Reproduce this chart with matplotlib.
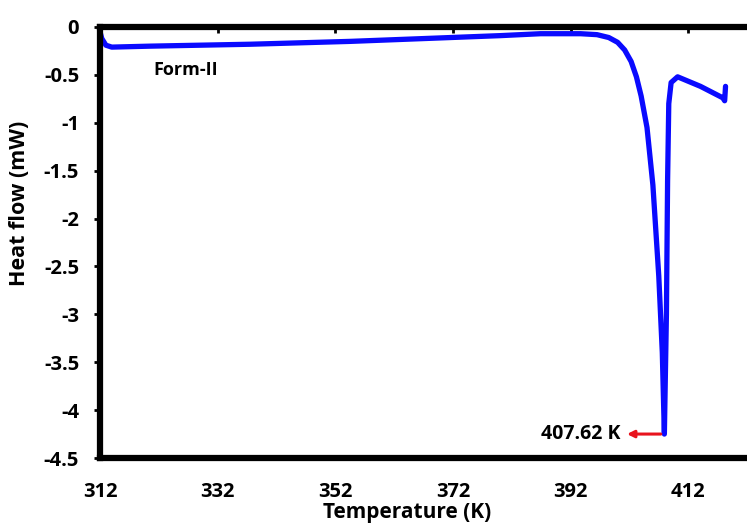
import numpy as np
import matplotlib.pyplot as plt

plt.rcParams['font.family'] = ['Open Sans', 'DejaVu Sans']
plt.rcParams['font.weight'] = 'bold'

# DSC trace (temperature in K, heat flow in mW)
temp = [312.0, 312.3, 313.0, 314.0, 320.5, 337.5, 354.6, 371.6, 380.1, 386.9,
        393.7, 396.5, 398.5, 400.0, 401.2, 402.3, 403.2, 404.0, 405.0, 406.0,
        407.0, 407.6, 407.95, 408.3, 408.5, 408.7, 409.1, 410.2, 414.1, 417.9,
        418.2, 418.35]
heat = [-0.05, -0.12, -0.19, -0.21, -0.20, -0.18, -0.15, -0.11, -0.09, -0.07,
        -0.07, -0.08, -0.11, -0.16, -0.24, -0.36, -0.52, -0.72, -1.05, -1.65,
        -2.6, -3.4, -4.25, -3.0, -1.6, -0.8, -0.58, -0.52, -0.62, -0.74,
        -0.77, -0.62]

peak_t = 407.62
peak_h = -4.25
xticks = [312, 332, 352, 372, 392, 412]
yticks = [0, -0.5, -1, -1.5, -2, -2.5, -3, -3.5, -4, -4.5]
ytick_labels = ['0', '-0.5', '-1', '-1.5', '-2', '-2.5', '-3', '-3.5', '-4', '-4.5']

fig = plt.figure(figsize=(7.47, 5.28), dpi=100)
ax = fig.add_axes([100 / 747, 70 / 528, 647 / 747, 431 / 528])

ax.plot(temp, heat, color='#0a0aff', lw=3.8, solid_joinstyle='round', solid_capstyle='round')

ax.set_xlim(312, 422)
ax.set_ylim(-4.5, 0)
ax.set_xticks(xticks)
ax.set_yticks(yticks)
ax.set_yticklabels(ytick_labels)

for s in ['left', 'top', 'bottom']:
    ax.spines[s].set_linewidth(4.5)
ax.spines['right'].set_visible(False)

# x ticks sit on the top (zero) line, labels along the bottom
ax.tick_params(axis='x', which='both', bottom=False, top=True, direction='in',
               length=4, width=2, labelsize=14.5, pad=17)
ax.tick_params(axis='y', direction='out', length=4, width=2, labelsize=14.5, pad=11)

ax.set_xlabel('Temperature (K)', fontsize=15, fontweight='bold')
ax.set_ylabel('Heat flow (mW)', fontsize=15.5, fontweight='bold')
ax.xaxis.set_label_coords(0.475, -0.103)
ax.yaxis.set_label_coords(-0.108, 0.59)

ax.text(326.5, -0.45, 'Form-II', fontsize=13, fontweight='bold', ha='center', va='center')

ax.annotate('407.62 K', xy=(peak_t - 6.5, peak_h), xytext=(peak_t - 7.1, peak_h),
            ha='right', va='center', fontsize=14, fontweight='bold')
ax.annotate('', xy=(peak_t - 6.5, peak_h), xytext=(peak_t + 0.2, peak_h),
            arrowprops=dict(arrowstyle='-|>', color='#e8141e', lw=2.2, mutation_scale=10))

fig.savefig('out.png', dpi=100)
